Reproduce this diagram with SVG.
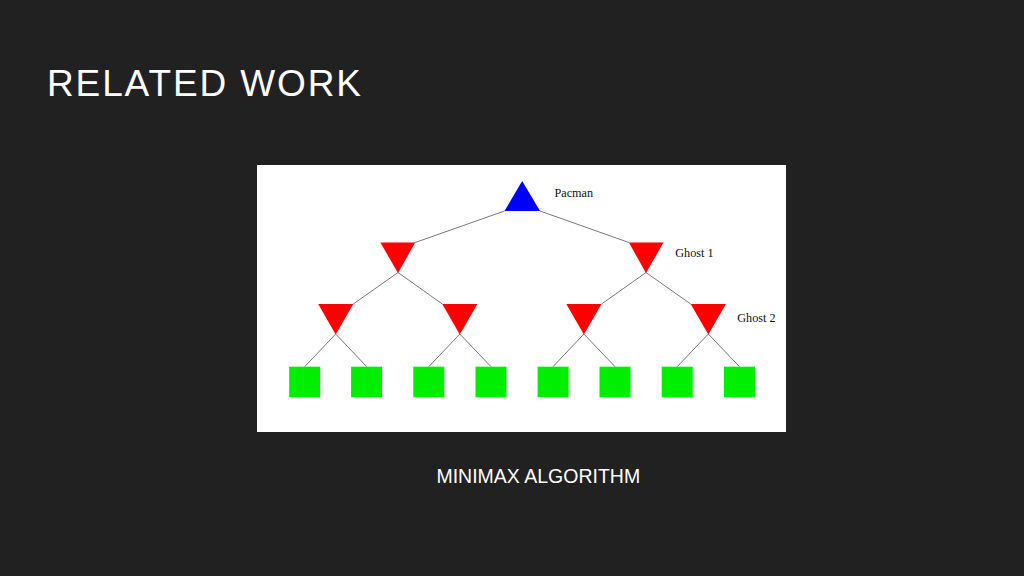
<svg xmlns="http://www.w3.org/2000/svg" width="1024" height="576" viewBox="0 0 1024 576">
<style>
.title{font-family:"Liberation Sans",Arial,sans-serif;fill:#ffffff}
.lbl{font-family:"Liberation Serif","Times New Roman",serif;font-size:12.2px;fill:#111111}
.edge{stroke:#7a7a7a;stroke-width:1;fill:none}
.max{fill:#0000ff}
.min{fill:#ff0000}
.leaf{fill:#00ee00}
</style>
<rect x="0" y="0" width="1024" height="576" fill="#212121"/>
<text class="title" x="47" y="95.5" font-size="37" textLength="314" lengthAdjust="spacing">RELATED WORK</text>
<rect x="257" y="165" width="529" height="267" fill="#ffffff"/>
<g id="connectors">
<line class="edge" x1="504.5" y1="211" x2="415.2" y2="242.5"/>
<line class="edge" x1="540" y1="211" x2="628.9" y2="242.5"/>
<line class="edge" x1="398" y1="272.5" x2="353.3" y2="304"/>
<line class="edge" x1="398" y1="272.5" x2="442.3" y2="304"/>
<line class="edge" x1="646" y1="272.5" x2="601.5" y2="304"/>
<line class="edge" x1="646" y1="272.5" x2="690.7" y2="304"/>
<line class="edge" x1="335.7" y1="334" x2="304.7" y2="366.7"/>
<line class="edge" x1="335.7" y1="334" x2="366.7" y2="366.7"/>
<line class="edge" x1="459.8" y1="334" x2="428.8" y2="366.7"/>
<line class="edge" x1="459.8" y1="334" x2="491" y2="366.7"/>
<line class="edge" x1="583.9" y1="334" x2="553" y2="366.7"/>
<line class="edge" x1="583.9" y1="334" x2="615" y2="366.7"/>
<line class="edge" x1="708.3" y1="334" x2="677.2" y2="366.7"/>
<line class="edge" x1="708.3" y1="334" x2="739.5" y2="366.7"/>
</g>
<g id="pacman"><polygon class="max" points="522.2,181 504.5,211 540,211"/><text class="lbl" x="554.5" y="196.7">Pacman</text></g>
<g id="ghost1-left"><polygon class="min" points="380.4,242.5 415.2,242.5 398,273"/></g>
<g id="ghost1-right"><polygon class="min" points="628.9,242.5 663.5,242.5 646,273"/><text class="lbl" x="675.3" y="257.3">Ghost 1</text></g>
<g id="ghost2-a"><polygon class="min" points="318.2,304 353.3,304 335.7,334.5"/></g>
<g id="ghost2-b"><polygon class="min" points="442.3,304 477.4,304 459.8,334.5"/></g>
<g id="ghost2-c"><polygon class="min" points="566.3,304 601.5,304 583.9,334.5"/></g>
<g id="ghost2-d"><polygon class="min" points="690.7,304 725.9,304 708.3,334.5"/><text class="lbl" x="737.3" y="321.8">Ghost 2</text></g>
<g id="leaf1"><rect class="leaf" x="289.2" y="366.7" width="31" height="30.6"/></g>
<g id="leaf2"><rect class="leaf" x="351.1" y="366.7" width="31" height="30.6"/></g>
<g id="leaf3"><rect class="leaf" x="413.3" y="366.7" width="31" height="30.6"/></g>
<g id="leaf4"><rect class="leaf" x="475.5" y="366.7" width="31" height="30.6"/></g>
<g id="leaf5"><rect class="leaf" x="537.6" y="366.7" width="31" height="30.6"/></g>
<g id="leaf6"><rect class="leaf" x="599.5" y="366.7" width="31" height="30.6"/></g>
<g id="leaf7"><rect class="leaf" x="661.7" y="366.7" width="31" height="30.6"/></g>
<g id="leaf8"><rect class="leaf" x="724" y="366.7" width="31" height="30.6"/></g>
<text class="title" x="538.3" y="483.3" font-size="19.5" text-anchor="middle">MINIMAX ALGORITHM</text>
</svg>
